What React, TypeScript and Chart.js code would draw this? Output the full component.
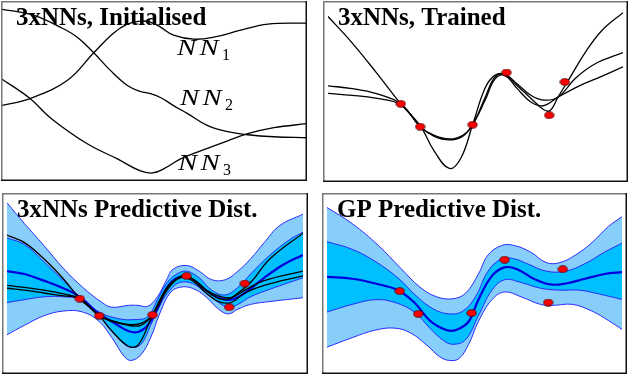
import React, { useEffect, useRef } from 'react';
import { Chart, registerables } from 'chart.js';
Chart.register(...registerables);

// ---------- Panel 1: 3xNNs, Initialised ----------
const TL_NN1_X = [0, 29, 66, 92, 112, 126, 139, 149, 159, 172, 192, 212, 239, 266, 305];
const TL_NN1_Y = [75, 82, 100, 127, 147, 156, 159, 158, 153, 145, 141, 143, 150, 156, 157];
const TL_NN2_X = [0, 32, 59, 76, 92, 109, 126, 139, 149, 159, 172, 186, 206, 226, 246, 272, 305];
const TL_NN2_Y = [171, 165, 153, 143, 128, 110, 95, 89, 87, 83, 75, 67, 55, 49, 46, 44, 43];
const TL_NN3_X = [0, 29, 49, 86, 116, 139, 151, 162, 179, 199, 226, 246, 272, 305];
const TL_NN3_Y = [102, 82, 63, 37, 22, 10, 8, 12, 22, 30, 40, 47, 53, 57];
const TL_LABELS = ['1', '2', '3'];

// ---------- Panel 2: 3xNNs, Trained ----------
const TR_A_X = [0, 25, 49, 75, 95, 109, 125, 137, 149, 162, 172, 182, 195, 209, 222, 229, 237, 249, 265, 282, 304];
const TR_A_Y = [169, 141, 111, 77, 54, 28, 9, 20, 55, 94, 107, 108, 96, 83, 71, 70, 84, 104, 131, 154, 173];
const TR_B_X = [0, 25, 49, 75, 95, 109, 125, 139, 149, 162, 172, 182, 195, 209, 222, 237, 255, 275, 304];
const TR_B_Y = [96, 93, 88, 77, 53, 44, 40, 44, 55, 84, 105, 108, 98, 86, 81, 84, 104, 119, 131];
const TR_C_X = [0, 25, 49, 75, 95, 109, 125, 139, 149, 162, 172, 182, 195, 209, 222, 237, 259, 282, 304];
const TR_C_Y = [88, 86, 83, 76, 53, 43, 39, 43, 55, 81, 103, 107, 93, 79, 75, 84, 96, 106, 116];
const TR_DOT_X = [75, 95, 149, 184, 228, 244];
const TR_DOT_Y = [77, 53, 55, 110, 65, 100];

// ---------- Panel 3: 3xNNs Predictive Dist. ----------
const BL_OU_X = [0, 18, 38, 58, 78, 98, 108, 125, 135, 145, 155, 165, 171, 185, 198, 211, 225, 238, 251, 265, 281, 305];
const BL_OU_Y = [175, 153, 130, 106, 86, 70, 65, 67, 67, 66, 76, 95, 105, 109, 103, 94, 94, 103, 116, 133, 151, 163];
const BL_OL_X = [0, 18, 38, 58, 78, 95, 108, 121, 128, 138, 148, 158, 168, 178, 191, 205, 218, 228, 238, 251, 271, 305];
const BL_OL_Y = [36, 46, 56, 61, 60, 50, 33, 13, 9, 15, 33, 60, 80, 86, 85, 76, 63, 58, 63, 68, 71, 75];
const BL_IU_X = [0, 18, 38, 58, 75, 95, 115, 131, 145, 155, 165, 175, 185, 198, 211, 225, 238, 251, 271, 291, 305];
const BL_IU_Y = [138, 131, 113, 93, 76, 60, 53, 52, 55, 73, 91, 100, 103, 96, 83, 78, 86, 100, 120, 136, 144];
const BL_IL_X = [0, 18, 38, 58, 75, 95, 108, 121, 128, 138, 148, 158, 168, 178, 191, 205, 218, 228, 238, 251, 271, 305];
const BL_IL_Y = [70, 73, 76, 76, 73, 56, 40, 26, 23, 26, 46, 68, 83, 91, 90, 80, 70, 65, 68, 76, 84, 96];
const BL_MEAN_X = [0, 18, 38, 58, 75, 95, 108, 125, 135, 145, 155, 165, 178, 191, 205, 218, 231, 245, 265, 285, 305];
const BL_MEAN_Y = [103, 100, 93, 85, 76, 58, 50, 40, 39, 46, 63, 86, 97, 94, 83, 75, 73, 80, 96, 110, 120];
const BL_A_X = [0, 18, 38, 58, 75, 95, 108, 125, 135, 150, 165, 178, 185, 198, 211, 225, 238, 251, 271, 305];
const BL_A_Y = [141, 133, 116, 95, 74, 56, 40, 24, 25, 57, 86, 97, 98, 90, 78, 73, 80, 91, 116, 143];
const BL_B_X = [0, 18, 38, 58, 75, 95, 108, 125, 138, 150, 165, 178, 191, 205, 218, 231, 245, 265, 305];
const BL_B_Y = [88, 86, 83, 79, 74, 56, 51, 47, 48, 57, 85, 96, 95, 83, 77, 75, 83, 93, 103];
const BL_C_Y = [85, 83, 80, 77, 74, 56, 50, 46, 46, 57, 83, 96, 93, 80, 71, 70, 80, 88, 98];
const BL_DOT_X = [75, 95, 150, 185, 229, 245];
const BL_DOT_Y = [74, 56, 57, 98, 65, 90];

// ---------- Panel 4: GP Predictive Dist. ----------
const BR_OU_X = [0, 26, 53, 76, 96, 113, 130, 143, 156, 166, 180, 193, 210, 226, 240, 256, 273, 290, 305];
const BR_OU_Y = [170, 153, 130, 106, 86, 76, 74, 80, 100, 120, 130, 130, 123, 112, 112, 120, 133, 150, 161];
const BR_OL_X = [0, 26, 50, 70, 86, 103, 116, 126, 136, 146, 156, 170, 183, 200, 220, 233, 253, 273, 290, 305];
const BR_OL_Y = [23, 33, 41, 43, 38, 25, 13, 9, 11, 26, 50, 73, 81, 76, 68, 67, 68, 61, 51, 41];
const BR_IU_X = [0, 26, 50, 73, 93, 110, 126, 140, 153, 166, 180, 193, 206, 226, 246, 266, 286, 305];
const BR_IU_Y = [134, 126, 113, 96, 76, 63, 58, 61, 76, 103, 116, 116, 111, 103, 103, 111, 123, 133];
const BR_IL_X = [0, 26, 50, 70, 90, 106, 120, 130, 143, 156, 170, 183, 200, 220, 240, 260, 280, 305];
const BR_IL_Y = [60, 68, 73, 70, 60, 43, 30, 26, 31, 56, 83, 94, 91, 85, 83, 83, 79, 73];
const BR_MEAN_X = [0, 26, 50, 73, 90, 106, 123, 133, 146, 156, 170, 183, 196, 213, 230, 246, 266, 286, 305];
const BR_MEAN_Y = [97, 95, 90, 83, 70, 51, 41, 41, 50, 73, 98, 107, 105, 95, 89, 90, 95, 100, 102];
const BR_DOT_X = [75, 94, 149, 183, 228, 243];
const BR_DOT_Y = [82, 58, 59, 115, 70, 105];

const TITLES = ['3xNNs, Initialised', '3xNNs, Trained', '3xNNs Predictive Dist.', 'GP Predictive Dist.'];

const LIGHT = '#87CEFA';
const DEEP = '#00BFFF';
const EDGE = '#2a2aff';
const MEAN = '#0000dd';
const TENSION = 0.4;

function pts(xs: number[], ys: number[]) {
  return xs.map((x, i) => ({ x, y: ys[i] }));
}

function blackLine(xs: number[], ys: number[], order = 5) {
  return {
    data: pts(xs, ys), borderColor: '#000', borderWidth: 1.3, pointRadius: 0,
    fill: false, tension: TENSION, order,
  };
}

function makeDot() {
  const c = document.createElement('canvas');
  c.width = 11; c.height = 8;
  const g = c.getContext('2d')!;
  g.beginPath();
  g.ellipse(5.5, 4, 4.6, 3.3, 0, 0, Math.PI * 2);
  g.fillStyle = '#ff0000';
  g.fill();
  g.lineWidth = 0.9;
  g.strokeStyle = '#550000';
  g.stroke();
  return c;
}

function dots(xs: number[], ys: number[], img: HTMLCanvasElement) {
  return {
    data: pts(xs, ys), showLine: false, pointStyle: img, pointRadius: 4,
    borderColor: 'transparent', backgroundColor: 'red', order: 0,
  };
}

function bandSets(ouX: number[], ouY: number[], olX: number[], olY: number[], iuX: number[], iuY: number[], ilX: number[], ilY: number[], mX: number[], mY: number[]) {
  const common = { pointRadius: 0, tension: TENSION, borderColor: EDGE, borderWidth: 1 };
  return [
    { ...common, data: pts(ouX, ouY), fill: '+1', backgroundColor: LIGHT, order: 10 },
    { ...common, data: pts(olX, olY), fill: false, order: 9 },
    { ...common, data: pts(iuX, iuY), fill: '+1', backgroundColor: DEEP, order: 8 },
    { ...common, data: pts(ilX, ilY), fill: false, order: 7 },
    { ...common, data: pts(mX, mY), fill: false, borderColor: MEAN, borderWidth: 2.2, order: 6 },
  ];
}

type PanelDef = { left: number; top: number; w: number; h: number; xmax: number; ymax: number; idx: number };

const PANELS: PanelDef[] = [
  { left: 1, top: 1, w: 306, h: 180, xmax: 305, ymax: 179, idx: 0 },
  { left: 323, top: 1, w: 305, h: 181, xmax: 304, ymax: 180, idx: 1 },
  { left: 2, top: 193, w: 306, h: 181, xmax: 305, ymax: 180, idx: 2 },
  { left: 322, top: 193, w: 305, h: 181, xmax: 304, ymax: 180, idx: 3 },
];

function buildDatasets(idx: number, dot: HTMLCanvasElement): any[] {
  if (idx === 0) return [blackLine(TL_NN1_X, TL_NN1_Y), blackLine(TL_NN2_X, TL_NN2_Y), blackLine(TL_NN3_X, TL_NN3_Y)];
  if (idx === 1) return [dots(TR_DOT_X, TR_DOT_Y, dot), blackLine(TR_A_X, TR_A_Y), blackLine(TR_B_X, TR_B_Y), blackLine(TR_C_X, TR_C_Y)];
  if (idx === 2) return [
    ...bandSets(BL_OU_X, BL_OU_Y, BL_OL_X, BL_OL_Y, BL_IU_X, BL_IU_Y, BL_IL_X, BL_IL_Y, BL_MEAN_X, BL_MEAN_Y),
    blackLine(BL_A_X, BL_A_Y), blackLine(BL_B_X, BL_B_Y), blackLine(BL_B_X, BL_C_Y),
    dots(BL_DOT_X, BL_DOT_Y, dot),
  ];
  return [
    ...bandSets(BR_OU_X, BR_OU_Y, BR_OL_X, BR_OL_Y, BR_IU_X, BR_IU_Y, BR_IL_X, BR_IL_Y, BR_MEAN_X, BR_MEAN_Y),
    dots(BR_DOT_X, BR_DOT_Y, dot),
  ];
}

function Panel({ p }: { p: PanelDef }) {
  const ref = useRef<HTMLCanvasElement>(null);
  useEffect(() => {
    const dot = makeDot();
    const top = p.idx < 2;
    const drawTitle = (chart: any) => {
      const ctx = chart.ctx;
      ctx.save();
      ctx.fillStyle = '#000';
      ctx.font = 'bold 25px "Liberation Serif", "Times New Roman", serif';
      ctx.textBaseline = 'alphabetic';
      ctx.fillText(TITLES[p.idx], 15, 24);
      if (p.idx === 0) {
        const pos = [[176, 54], [179, 104], [177, 169]];
        pos.forEach((q, i) => {
          ctx.save();
          ctx.translate(q[0], q[1]);
          ctx.scale(1.25, 1);
          ctx.font = 'italic 23px "Liberation Serif", serif';
          ctx.fillText('N', 0, 0);
          ctx.fillText('N', 18, 0);
          ctx.restore();
          ctx.font = '16px "Liberation Serif", serif';
          ctx.fillText(TL_LABELS[i], q[0] + 45, q[1] + 5);
        });
      }
      ctx.restore();
    };
    const plugin = {
      id: 'deco' + p.idx,
      beforeDatasetsDraw(chart: any) { if (top) drawTitle(chart); },
      afterDatasetsDraw(chart: any) { if (!top) drawTitle(chart); },
      afterDraw(chart: any) {
        const ctx = chart.ctx;
        const w = chart.width, h = chart.height;
        ctx.save();
        ctx.lineWidth = 1.5;
        ctx.strokeStyle = '#777';
        ctx.beginPath(); ctx.moveTo(0.75, h); ctx.lineTo(0.75, 0.75); ctx.lineTo(w, 0.75); ctx.stroke();
        ctx.strokeStyle = '#111';
        ctx.beginPath(); ctx.moveTo(w - 0.75, 0); ctx.lineTo(w - 0.75, h - 0.75); ctx.lineTo(0, h - 0.75); ctx.stroke();
        ctx.restore();
      },
    };
    const chart = new Chart(ref.current!, {
      type: 'line',
      data: { datasets: buildDatasets(p.idx, dot) },
      options: {
        animation: false,
        responsive: false,
        maintainAspectRatio: false,
        devicePixelRatio: 1,
        layout: { padding: 0 },
        plugins: { legend: { display: false }, tooltip: { enabled: false }, title: { display: false } },
        scales: {
          x: { type: 'linear', min: 0, max: p.xmax, display: false },
          y: { type: 'linear', min: 0, max: p.ymax, display: false },
        },
        events: [],
      } as any,
      plugins: [plugin],
    });
    return () => chart.destroy();
  }, []);
  return (
    <canvas ref={ref} width={p.w} height={p.h}
      style={{ position: 'absolute', left: p.left, top: p.top, width: p.w, height: p.h }} />
  );
}

export default function App() {
  return (
    <div style={{ position: 'fixed', left: 0, top: 0, width: 630, height: 374, background: '#fff' }}>
      {PANELS.map((p) => <Panel key={p.idx} p={p} />)}
    </div>
  );
}
